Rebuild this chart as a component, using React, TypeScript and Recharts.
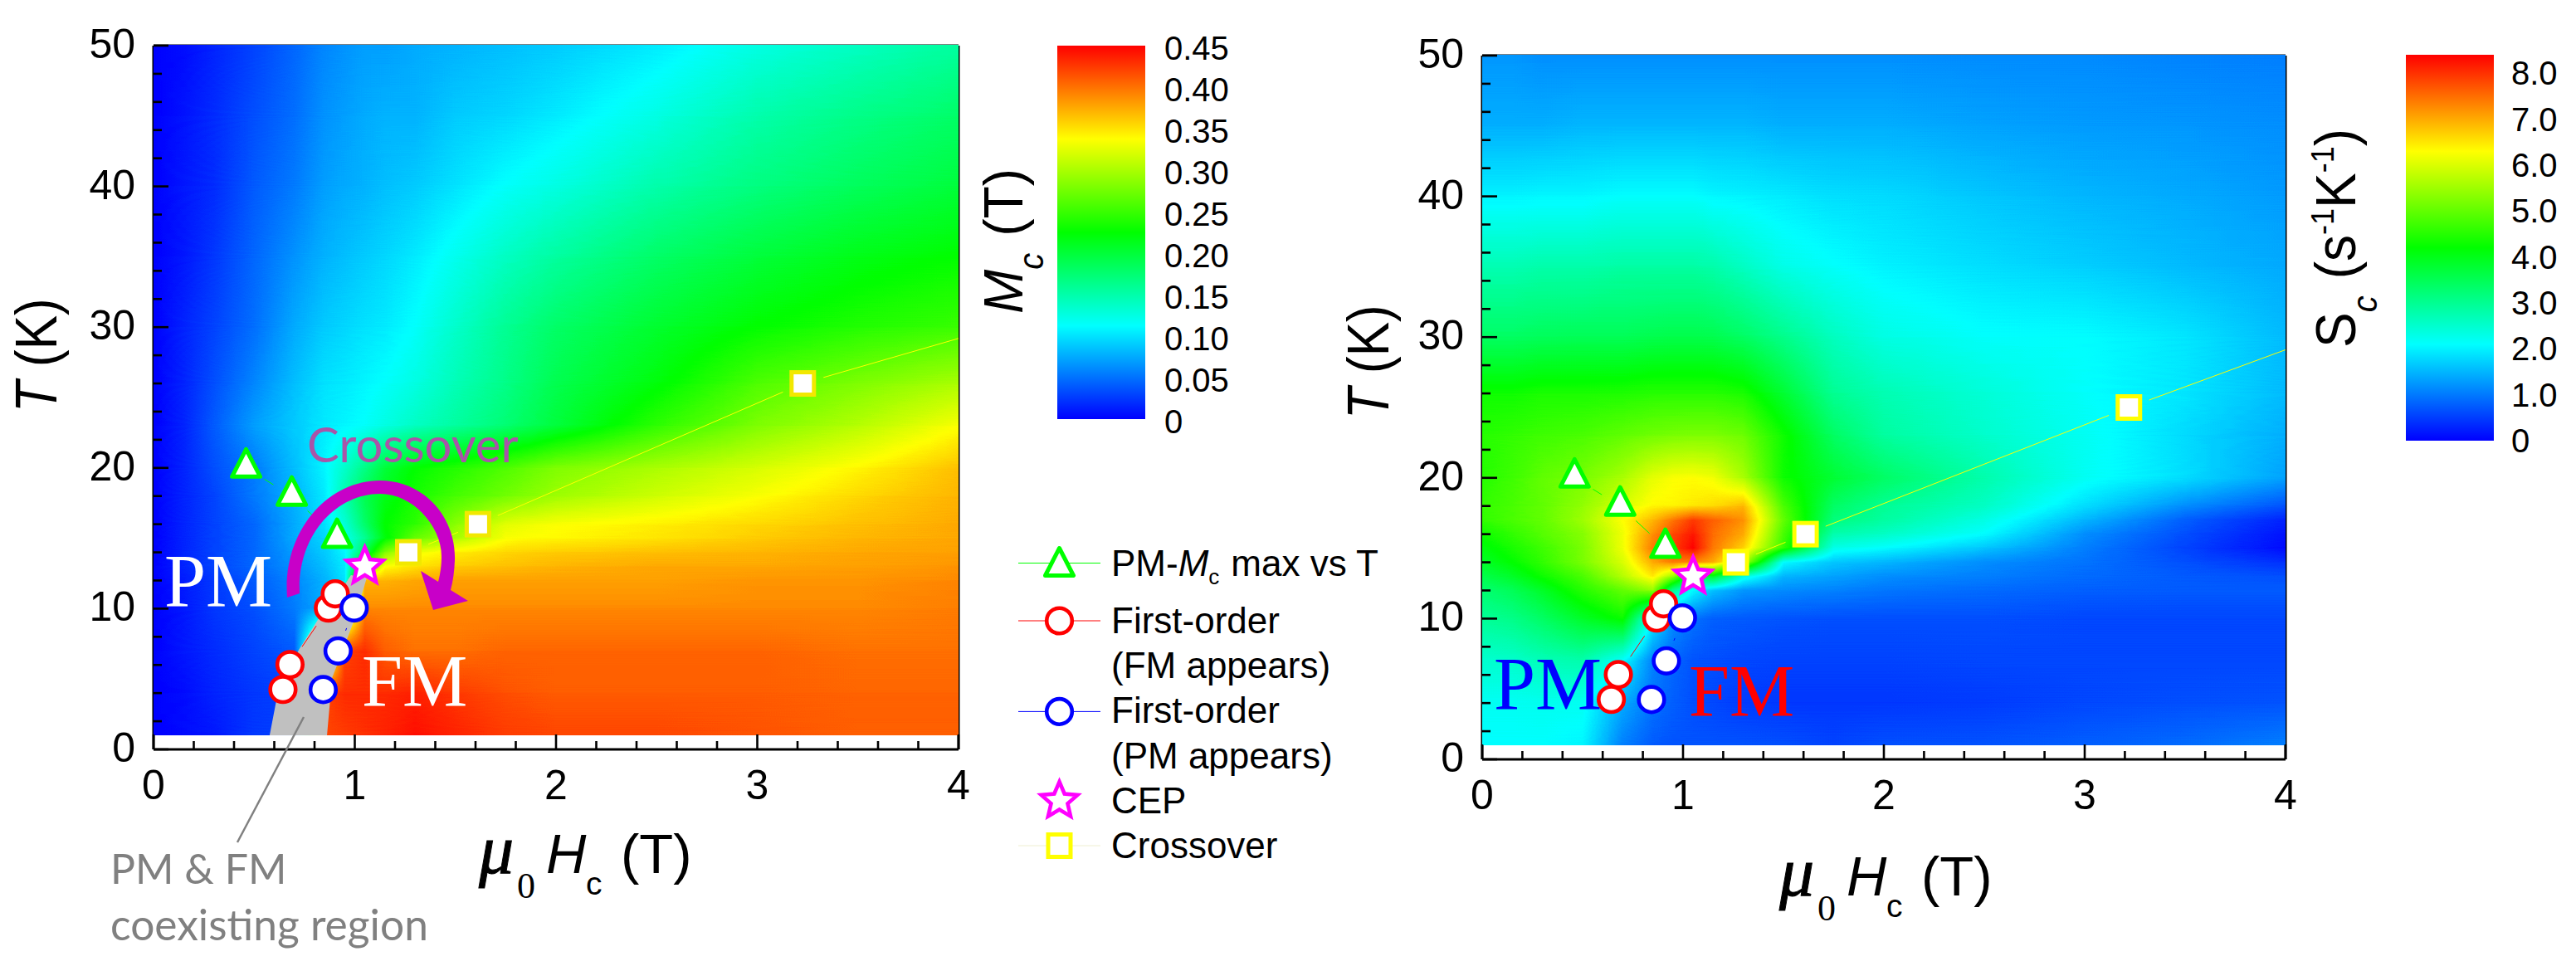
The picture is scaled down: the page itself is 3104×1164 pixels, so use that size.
import React from 'react';
import { ScatterChart, Scatter, XAxis, YAxis, BarChart, Bar } from 'recharts';

const SANS = '"Liberation Sans", Arial, sans-serif';
const SERIF = '"Liberation Serif", "Times New Roman", serif';
const LATO = 'Lato, sans-serif';

const hTicks = [0, 0.2, 0.4, 0.6, 0.8, 1, 1.2, 1.4, 1.6, 1.8, 2, 2.2, 2.4, 2.6, 2.8, 3, 3.2, 3.4, 3.6, 3.8, 4];
const tTicks = [0, 2, 4, 6, 8, 10, 12, 14, 16, 18, 20, 22, 24, 26, 28, 30, 32, 34, 36, 38, 40, 42, 44, 46, 48, 50];

// grid nodes of the two colour maps
const hNodes = [0, 0.15, 0.3, 0.5, 0.7, 0.85, 0.95, 1.05, 1.15, 1.3, 1.5, 1.75, 2, 2.5, 3, 3.5, 4];

const mcMax = 0.45;
const mcRowT = [1, 4, 7, 10, 12, 13, 14, 15, 16, 18, 20, 23, 26, 30, 35, 40, 45, 50];
const mcRows = [
  [0, 0.005, 0.01, 0.025, 0.03, 0.42, 0.425, 0.43, 0.435, 0.445, 0.435, 0.425, 0.42, 0.42, 0.415, 0.41, 0.41],
  [0, 0.005, 0.015, 0.025, 0.03, 0.42, 0.43, 0.43, 0.43, 0.435, 0.425, 0.415, 0.41, 0.41, 0.41, 0.405, 0.405],
  [0, 0.01, 0.02, 0.03, 0.04, 0.25, 0.42, 0.43, 0.41, 0.4, 0.4, 0.405, 0.405, 0.405, 0.405, 0.4, 0.4],
  [0, 0.01, 0.025, 0.035, 0.055, 0.08, 0.25, 0.39, 0.39, 0.39, 0.39, 0.39, 0.39, 0.39, 0.39, 0.39, 0.395],
  [0, 0.012, 0.025, 0.04, 0.06, 0.08, 0.1, 0.37, 0.37, 0.375, 0.38, 0.38, 0.38, 0.38, 0.385, 0.385, 0.39],
  [0, 0.015, 0.03, 0.045, 0.065, 0.085, 0.105, 0.25, 0.335, 0.35, 0.36, 0.365, 0.37, 0.375, 0.375, 0.38, 0.385],
  [0, 0.015, 0.03, 0.045, 0.07, 0.09, 0.11, 0.19, 0.28, 0.33, 0.345, 0.355, 0.36, 0.365, 0.37, 0.375, 0.38],
  [0, 0.015, 0.03, 0.045, 0.075, 0.095, 0.12, 0.16, 0.22, 0.27, 0.3, 0.335, 0.34, 0.35, 0.36, 0.37, 0.375],
  [0, 0.015, 0.03, 0.045, 0.075, 0.1, 0.13, 0.18, 0.225, 0.245, 0.285, 0.325, 0.335, 0.345, 0.355, 0.365, 0.375],
  [0, 0.015, 0.03, 0.055, 0.08, 0.105, 0.15, 0.19, 0.215, 0.235, 0.255, 0.275, 0.295, 0.315, 0.335, 0.355, 0.37],
  [0, 0.015, 0.035, 0.055, 0.085, 0.11, 0.135, 0.165, 0.2, 0.225, 0.24, 0.26, 0.28, 0.3, 0.32, 0.34, 0.365],
  [0, 0.015, 0.04, 0.07, 0.09, 0.105, 0.11, 0.115, 0.125, 0.14, 0.155, 0.175, 0.2, 0.245, 0.28, 0.305, 0.335],
  [0, 0.015, 0.035, 0.06, 0.085, 0.1, 0.105, 0.11, 0.115, 0.125, 0.145, 0.165, 0.19, 0.22, 0.26, 0.28, 0.3],
  [0, 0.015, 0.03, 0.05, 0.075, 0.09, 0.095, 0.1, 0.105, 0.115, 0.135, 0.16, 0.18, 0.205, 0.225, 0.24, 0.25],
  [0, 0.01, 0.025, 0.045, 0.065, 0.08, 0.085, 0.09, 0.095, 0.105, 0.12, 0.14, 0.155, 0.18, 0.2, 0.215, 0.225],
  [0, 0.01, 0.02, 0.04, 0.055, 0.07, 0.075, 0.08, 0.085, 0.09, 0.1, 0.115, 0.125, 0.15, 0.17, 0.185, 0.2],
  [0, 0.008, 0.02, 0.035, 0.05, 0.065, 0.07, 0.075, 0.08, 0.08, 0.09, 0.095, 0.105, 0.125, 0.15, 0.165, 0.18],
  [0, 0.005, 0.015, 0.03, 0.045, 0.06, 0.065, 0.07, 0.07, 0.075, 0.08, 0.085, 0.09, 0.105, 0.125, 0.14, 0.155],
];

const scMax = 8.4;
const scRowT = [1, 4, 7, 10, 12, 13, 14, 15, 16, 17, 18, 20, 23, 26, 30, 35, 40, 45, 50];
const scRows = [
  [2.1, 2.1, 2.1, 2.05, 1.05, 0.75, 0.7, 0.7, 0.7, 0.7, 0.65, 0.55, 0.65, 0.7, 0.8, 0.9, 1.05],
  [2.2, 2.2, 2.25, 2.2, 1.4, 0.95, 0.8, 0.65, 0.6, 0.5, 0.45, 0.45, 0.45, 0.5, 0.6, 0.65, 0.7],
  [2.5, 2.55, 2.7, 2.8, 2.1, 1.1, 0.85, 0.7, 0.65, 0.6, 0.55, 0.55, 0.55, 0.6, 0.6, 0.6, 0.6],
  [2.95, 3.1, 3.4, 3.9, 4.3, 2.0, 1.2, 0.95, 0.8, 0.75, 0.7, 0.65, 0.65, 0.65, 0.6, 0.6, 0.6],
  [3.3, 3.5, 3.9, 4.5, 5.0, 5.4, 3.0, 2.1, 1.6, 1.25, 1.15, 1.1, 1.0, 0.9, 0.8, 0.75, 0.75],
  [3.6, 3.9, 4.3, 4.8, 5.7, 6.5, 5.5, 3.5, 4.0, 2.4, 1.5, 1.35, 1.2, 1.05, 0.9, 0.75, 0.65],
  [3.9, 4.2, 4.6, 5.2, 6.0, 7.0, 7.4, 7.3, 7.0, 5.7, 2.1, 1.65, 1.5, 1.2, 0.95, 0.65, 0.4],
  [4.1, 4.4, 4.7, 5.2, 6.2, 7.4, 7.9, 8.4, 7.4, 6.7, 4.6, 2.3, 2.1, 1.65, 1.05, 0.55, 0.1],
  [4.3, 4.6, 4.9, 5.3, 6.2, 7.2, 7.8, 8.2, 7.5, 7.0, 4.8, 2.8, 2.6, 2.1, 1.2, 0.65, 0.15],
  [4.6, 4.8, 5.0, 5.5, 6.3, 6.9, 7.4, 7.9, 7.6, 7.2, 5.0, 3.2, 2.9, 2.35, 1.5, 0.8, 0.3],
  [4.6, 4.8, 5.0, 5.4, 6.0, 6.35, 6.4, 6.5, 6.6, 6.9, 4.8, 3.4, 3.0, 2.6, 1.85, 1.2, 0.7],
  [4.5, 4.7, 5.0, 5.2, 5.6, 6.1, 6.25, 6.3, 6.2, 5.6, 4.3, 3.8, 3.4, 2.8, 2.2, 1.85, 1.35],
  [4.5, 4.6, 4.7, 4.8, 5.0, 5.15, 5.2, 5.25, 5.25, 5.1, 4.3, 3.4, 2.9, 2.55, 2.2, 1.8, 1.45],
  [4.3, 4.3, 4.4, 4.4, 4.45, 4.5, 4.5, 4.5, 4.5, 4.4, 3.8, 3.0, 2.75, 2.45, 2.15, 1.9, 1.55],
  [3.4, 3.4, 3.45, 3.5, 3.5, 3.55, 3.6, 3.6, 3.55, 3.4, 3.05, 2.65, 2.35, 2.15, 2.1, 1.9, 1.55],
  [2.75, 2.75, 2.8, 2.8, 2.85, 2.85, 2.85, 2.85, 2.8, 2.6, 2.3, 2.15, 2.0, 1.85, 1.7, 1.55, 1.4],
  [2.0, 2.0, 2.05, 2.05, 2.1, 2.1, 2.1, 2.1, 2.05, 2.0, 1.95, 1.85, 1.8, 1.65, 1.5, 1.4, 1.3],
  [1.45, 1.45, 1.45, 1.5, 1.5, 1.5, 1.5, 1.5, 1.5, 1.5, 1.45, 1.45, 1.45, 1.35, 1.3, 1.25, 1.2],
  [1.25, 1.25, 1.2, 1.2, 1.2, 1.2, 1.2, 1.2, 1.2, 1.2, 1.2, 1.2, 1.2, 1.15, 1.15, 1.1, 1.05],
];

// left panel marks
const mcMaxH = [0.46, 0.687, 0.912];
const mcMaxT = [20, 18, 15];
const fmH = [0.643, 0.678, 0.869, 0.903];
const fmT = [4.26, 6.03, 10.04, 11.05];
const pmH = [0.843, 0.917, 0.997];
const pmT = [4.25, 7, 10.05];
const cepH = [1.05];
const cepT = [13];
const crossH = [1.266, 1.612, 3.226, 4];
const crossT = [14, 16, 26, 29.2];
const coexH = [0.577, 0.862, 0.887, 0.993, 1.059, 0.981, 0.955, 0.816, 0.722, 0.619];
const coexT = [1, 1, 5.07, 9.02, 12.16, 12.38, 11.8, 9.2, 7.08, 4.13];

// right panel marks
const crossH2 = [1.263, 1.61, 3.22, 4];
const crossT2 = [14, 16, 25, 29.1];

const mcBarTicks = [0, 0.05, 0.1, 0.15, 0.2, 0.25, 0.3, 0.35, 0.4, 0.45];
const scBarTicks = [0, 1, 2, 3, 4, 5, 6, 7, 8];

const rainbow = ['#0000ff', '#00ffff', '#00ff00', '#ffff00', '#ff0000'];

const zip = (h: number[], t: number[]) => h.map((v, i) => ({ h: v, t: t[i] }));
const toGray = (v: number, max: number) => {
  const g = Math.round((255 * v) / max);
  return `rgb(${g},${g},${g})`;
};

function GapLine(color: string, openEnd: boolean) {
  return (props: any) => {
    const pts = props.points || [];
    const gap = 26;
    const segs: React.ReactNode[] = [];
    for (let i = 0; i + 1 < pts.length; i++) {
      const a = pts[i];
      const b = pts[i + 1];
      const len = Math.hypot(b.x - a.x, b.y - a.y);
      const endGap = openEnd && i + 2 === pts.length ? 0 : gap;
      if (len <= gap + endGap) continue;
      const ux = (b.x - a.x) / len;
      const uy = (b.y - a.y) / len;
      segs.push(
        <line key={i} x1={a.x + ux * gap} y1={a.y + uy * gap} x2={b.x - ux * endGap} y2={b.y - uy * endGap} stroke={color} strokeWidth={1} />
      );
    }
    return <g>{segs}</g>;
  };
}

const polygonLine = (props: any) => {
  const d = (props.points || []).map((p: any, i: number) => `${i ? 'L' : 'M'}${p.x},${p.y}`).join(' ') + ' Z';
  return <path d={d} fill="#c0c0c0" stroke="none" />;
};

const starPath = (cx: number, cy: number, R: number, r: number) => {
  let d = '';
  for (let i = 0; i < 10; i++) {
    const rad = i % 2 ? r : R;
    const a = -Math.PI / 2 + (i * Math.PI) / 5;
    d += `${i ? 'L' : 'M'}${cx + rad * Math.cos(a)},${cy + rad * Math.sin(a)} `;
  }
  return d + 'Z';
};

const triangle = (cx: number, cy: number, color = '#00ff00') => (
  <path d={`M${cx},${cy - 22.5} L${cx + 17},${cy + 10.5} L${cx - 17},${cy + 10.5} Z`} fill="#fff" stroke={color} strokeWidth={5} strokeLinejoin="round" />
);
const circle = (cx: number, cy: number, color: string) => <circle cx={cx} cy={cy} r={15.3} fill="#fff" stroke={color} strokeWidth={4.6} />;
const star = (cx: number, cy: number) => <path d={starPath(cx, cy, 23, 10.5)} fill="#fff" stroke="#ff00ff" strokeWidth={4.6} strokeLinejoin="miter" />;
const square = (cx: number, cy: number, color: string) => <rect x={cx - 13.5} y={cy - 13.5} width={27} height={27} fill="#fff" stroke={color} strokeWidth={5} />;

function makeTick(side: 'left' | 'right' | 'top' | 'bottom', isMajor: (v: number) => boolean, labels: boolean) {
  return (props: any) => {
    const { x, y, payload } = props;
    const v = payload.value;
    const len = isMajor(v) ? 18 : 10;
    const dx = side === 'left' ? len : side === 'right' ? -len : 0;
    const dy = side === 'bottom' ? -len : side === 'top' ? len : 0;
    return (
      <g>
        <line x1={x} y1={y} x2={x + dx} y2={y + dy} stroke="#000" strokeWidth={2.6} />
        {labels && isMajor(v) && side === 'bottom' && (
          <text x={x} y={y + 60} textAnchor="middle" fontFamily={SANS} fontSize={50} fill="#000">{v}</text>
        )}
        {labels && isMajor(v) && side === 'left' && (
          <text x={x - 22} y={y + 15} textAnchor="end" fontFamily={SANS} fontSize={50} fill="#000">{v}</text>
        )}
      </g>
    );
  };
}

const isMajorH = (v: number) => Number.isInteger(v);
const isMajorT = (v: number) => v % 10 === 0;

function HeatPanel({ id, left, top, plotW, rows, rowT, max, children }: any) {
  const plotH = 848;
  const pxK = plotH / 50;
  const bands = rowT.map((t: number, i: number) => ({ h: 0, t, row: i }));
  const band = (props: any) => {
    const { cx, cy, payload } = props;
    const next = payload.row + 1;
    if (next >= rowT.length) return <g />;
    const bh = (rowT[next] - rowT[payload.row]) * pxK;
    return (
      <g filter="url(#rainbowMap)">
        <rect x={cx} y={cy - bh - 1} width={plotW} height={bh + 1} fill={`url(#${id}-row-${payload.row})`} />
        <rect x={cx} y={cy - bh - 1} width={plotW} height={bh + 1} fill={`url(#${id}-row-${next})`} mask="url(#fadeUp)" />
      </g>
    );
  };
  const axisLine = { stroke: '#000', strokeWidth: 3 };
  return (
    <div style={{ position: 'absolute', left, top }}>
      <ScatterChart width={185 + plotW + 20} height={1164 - top} margin={{ top: 0, right: 0, bottom: 0, left: 0 }}>
        <defs>
          {rows.map((row: number[], i: number) => (
            <linearGradient key={i} id={`${id}-row-${i}`} x1="0" y1="0" x2="1" y2="0">
              {row.map((v, j) => (
                <stop key={j} offset={hNodes[j] / 4} stopColor={toGray(v, max)} />
              ))}
            </linearGradient>
          ))}
        </defs>
        <XAxis xAxisId="b" type="number" dataKey="h" orientation="bottom" domain={[0, 4]} ticks={hTicks} interval={0} height={1164 - top - 903} tickSize={0} tickMargin={0} axisLine={axisLine} tickLine={false} tick={makeTick('bottom', isMajorH, true)} />
        <XAxis xAxisId="t" type="number" dataKey="h" orientation="top" domain={[0, 4]} ticks={hTicks} interval={0} height={55} tickSize={0} tickMargin={0} axisLine={axisLine} tickLine={false} tick={makeTick('top', isMajorH, false)} />
        <YAxis yAxisId="l" type="number" dataKey="t" orientation="left" domain={[0, 50]} ticks={tTicks} interval={0} width={185} tickSize={0} tickMargin={0} axisLine={axisLine} tickLine={false} tick={makeTick('left', isMajorT, true)} />
        <YAxis yAxisId="r" type="number" dataKey="t" orientation="right" domain={[0, 50]} ticks={tTicks} interval={0} width={20} tickSize={0} tickMargin={0} axisLine={axisLine} tickLine={false} tick={makeTick('right', isMajorT, false)} />
        <Scatter xAxisId="b" yAxisId="l" data={bands} shape={band} isAnimationActive={false} />
        {children}
      </ScatterChart>
    </div>
  );
}

const noMark = () => <g />;

function marks(cross: { h: number; t: number }[], crossColor: string) {
  return [
    <Scatter key="fm" xAxisId="b" yAxisId="l" data={zip(fmH, fmT)} line={GapLine('#ff0000', false)} shape={(p: any) => circle(p.cx, p.cy, '#ff0000')} isAnimationActive={false} />,
    <Scatter key="pm" xAxisId="b" yAxisId="l" data={zip(pmH, pmT)} line={GapLine('#0000ff', false)} shape={(p: any) => circle(p.cx, p.cy, '#0000ff')} isAnimationActive={false} />,
    <Scatter key="mc" xAxisId="b" yAxisId="l" data={zip(mcMaxH, mcMaxT)} line={GapLine('#00ff00', false)} shape={(p: any) => triangle(p.cx, p.cy)} isAnimationActive={false} />,
    <Scatter
      key="cross"
      xAxisId="b"
      yAxisId="l"
      data={cross}
      line={GapLine('#ffff00', true)}
      shape={(p: any) => (p.payload.h >= 4 ? <g /> : square(p.cx, p.cy, crossColor))}
      isAnimationActive={false}
    />,
    <Scatter key="cep" xAxisId="b" yAxisId="l" data={zip(cepH, cepT)} shape={(p: any) => star(p.cx, p.cy)} isAnimationActive={false} />,
  ];
}

function ColorBar({ left, top, height, width, max, ticks, fmt, labelX, labelY }: any) {
  return (
    <div style={{ position: 'absolute', left, top: top - 40 }}>
      <BarChart width={width + 130} height={height + 90} data={[{ name: 'bar', range: [0, max] }]} margin={{ top: 40, right: 0, bottom: 50, left: 0 }} barCategoryGap={0}>
        <XAxis dataKey="name" hide />
        <YAxis
          orientation="right"
          type="number"
          domain={[0, max]}
          ticks={ticks}
          interval={0}
          width={130}
          axisLine={false}
          tickLine={false}
          tickSize={0}
          tickMargin={0}
          tick={(p: any) => (
            <text x={p.x + labelX} y={p.y + labelY} textAnchor="start" fontFamily={SANS} fontSize={40} fill="#000">{fmt(p.payload.value)}</text>
          )}
        />
        <Bar dataKey="range" fill="url(#rainbowBar)" isAnimationActive={false} />
      </BarChart>
    </div>
  );
}

function HTitle({ dx, dy }: { dx: number; dy: number }) {
  return (
    <text fontFamily={SANS} fontSize={67} fill="#000">
      <tspan x={577 + dx} y={1052 + dy} fontFamily={SERIF} fontStyle="italic" fontSize={84} stroke="#000" strokeWidth={1}>μ</tspan>
      <tspan x={623 + dx} y={1082 + dy} fontFamily={SERIF} fontSize={44}>0</tspan>
      <tspan x={658 + dx} y={1052 + dy} fontStyle="italic">H</tspan>
      <tspan x={706 + dx} y={1078 + dy} fontSize={39}>c</tspan>
      <tspan x={748 + dx} y={1052 + dy}>(T)</tspan>
    </text>
  );
}

function TTitle({ x, y }: { x: number; y: number }) {
  return (
    <text transform={`translate(${x},${y}) rotate(-90) scale(1,1.15)`} fontFamily={SANS} fontSize={62} fill="#000">
      <tspan fontStyle="italic">T</tspan> (K)
    </text>
  );
}

const legendRows = [
  { y: 678.5, kind: 'mc', color: '#00ff00' },
  { y: 748, kind: 'fm', color: '#ff0000' },
  { y: 857.4, kind: 'pm', color: '#0000ff' },
  { y: 965, kind: 'cep', color: 'none' },
  { y: 1019, kind: 'cross', color: '#eeeed0' },
];

function Overlay() {
  const mx = 1276.5;
  return (
    <svg width={3104} height={1164} style={{ position: 'absolute', left: 0, top: 0, pointerEvents: 'none' }}>
      {/* left panel notes */}
      <path
        d="M346,720 C340,640 395,579 458,579 C512,579 550,625 548,675 C547.6,687 546,700 543,711 L564,724 L522,735 L507,688 L528,701 C531,690 532,680 532,672 C533,635 498,595 458,595 C405,595 358,645 361,715 Z"
        fill="#c800c8"
      />
      <text x={370} y={557} fontFamily={LATO} fontSize={58} fill="#a855a8">Crossover</text>
      <text x={198} y={731} fontFamily={SERIF} fontSize={90} fill="#fff">PM</text>
      <text x={436} y={850} fontFamily={SERIF} fontSize={88} fill="#fff">FM</text>
      <line x1={366} y1={864} x2={286} y2={1015} stroke="#808080" strokeWidth={2.5} />
      <text x={133} y={1065} fontFamily={LATO} fontSize={50} fill="#808080">PM &amp; FM</text>
      <text x={133} y={1133} fontFamily={LATO} fontSize={51.5} fill="#808080">coexisting region</text>
      <HTitle dx={0} dy={0} />
      <TTitle x={68} y={497} />

      {/* right panel notes */}
      <text x={1800} y={855} fontFamily={SERIF} fontSize={90} fill="#0000ff">PM</text>
      <text x={2035} y={862} fontFamily={SERIF} fontSize={88} fill="#ff0000">FM</text>
      <HTitle dx={1567} dy={27} />
      <TTitle x={1673} y={505} />

      {/* colour bar titles */}
      <text transform="translate(1232,378) rotate(-90) scale(1,1.05)" fontFamily={SANS} fontSize={64} fill="#000">
        <tspan fontStyle="italic">M</tspan>
        <tspan dy={24} fontSize={40} fontStyle="italic">c</tspan>
        <tspan dy={-24} dx={20}>(T)</tspan>
      </text>
      <text transform="translate(2838,419) rotate(-90) scale(1,1.08)" fontFamily={SANS} fontSize={64} fill="#000">
        S
        <tspan dy={24} fontSize={40} fontStyle="italic">c</tspan>
        <tspan dy={-24} dx={20}>(s</tspan>
        <tspan dy={-24} fontSize={36}>-1</tspan>
        <tspan dy={24}>K</tspan>
        <tspan dy={-24} fontSize={36}>-1</tspan>
        <tspan dy={24}>)</tspan>
      </text>

      {/* legend */}
      {legendRows.map((r) =>
        r.color === 'none' ? null : <line key={r.kind} x1={1227} y1={r.y} x2={1326} y2={r.y} stroke={r.color} strokeWidth={1} />
      )}
      {triangle(mx, 683)}
      {circle(mx, 748, '#ff0000')}
      {circle(mx, 857.4, '#0000ff')}
      {star(mx, 965)}
      {square(mx, 1019, '#ffff00')}
      <g fontFamily={SANS} fontSize={44} fill="#000">
        <text x={1339} y={694}>
          PM-<tspan fontStyle="italic">M</tspan>
          <tspan dy={10} fontSize={26}>c</tspan>
          <tspan dy={-10} dx={14}>max vs T</tspan>
        </text>
        <text x={1339} y={763}>First-order</text>
        <text x={1339} y={817}>(FM appears)</text>
        <text x={1339} y={871}>First-order</text>
        <text x={1339} y={926}>(PM appears)</text>
        <text x={1339} y={980}>CEP</text>
        <text x={1339} y={1034}>Crossover</text>
      </g>
    </svg>
  );
}

export default function App() {
  return (
    <div style={{ position: 'absolute', left: 0, top: 0, width: 3104, height: 1164, background: '#fff', overflow: 'hidden' }}>
      <svg width={0} height={0} style={{ position: 'absolute' }}>
        <defs>
          {/* gray encodes the value, this filter turns it into the rainbow scale */}
          <filter id="rainbowMap" x="-1%" y="-10%" width="102%" height="120%" colorInterpolationFilters="sRGB">
            <feComponentTransfer>
              <feFuncR type="table" tableValues="0 0 0 1 1" />
              <feFuncG type="table" tableValues="0 1 1 1 0" />
              <feFuncB type="table" tableValues="1 1 0 0 0" />
            </feComponentTransfer>
          </filter>
          <linearGradient id="fadeGrad" x1="0" y1="1" x2="0" y2="0">
            <stop offset="0" stopColor="#000" stopOpacity={0} />
            <stop offset="1" stopColor="#000" stopOpacity={1} />
          </linearGradient>
          <mask id="fadeUp" maskContentUnits="objectBoundingBox" style={{ maskType: 'alpha' } as any}>
            <rect x={0} y={0} width={1} height={1} fill="url(#fadeGrad)" />
          </mask>
          <linearGradient id="rainbowBar" x1="0" y1="1" x2="0" y2="0">
            {rainbow.map((c, i) => (
              <stop key={c} offset={i / 4} stopColor={c} />
            ))}
          </linearGradient>
        </defs>
      </svg>

      <HeatPanel id="mc" left={0} top={0} plotW={970} rows={mcRows} rowT={mcRowT} max={mcMax}>
        <Scatter xAxisId="b" yAxisId="l" data={zip(coexH, coexT)} line={polygonLine} shape={noMark} isAnimationActive={false} />
        {marks(zip(crossH, crossT), '#f2e800')}
      </HeatPanel>

      <HeatPanel id="sc" left={1601} top={12} plotW={968} rows={scRows} rowT={scRowT} max={scMax}>
        {marks(zip(crossH2, crossT2), '#ffff00')}
      </HeatPanel>

      <ColorBar left={1274} top={55} width={106} height={450} max={mcMax} ticks={mcBarTicks} fmt={(v: number) => (v === 0 ? '0' : v.toFixed(2))} labelX={23} labelY={17} />
      <ColorBar left={2899} top={66} width={106} height={465} max={scMax} ticks={scBarTicks} fmt={(v: number) => (v === 0 ? '0' : v.toFixed(1))} labelX={21} labelY={14} />

      <Overlay />
    </div>
  );
}
